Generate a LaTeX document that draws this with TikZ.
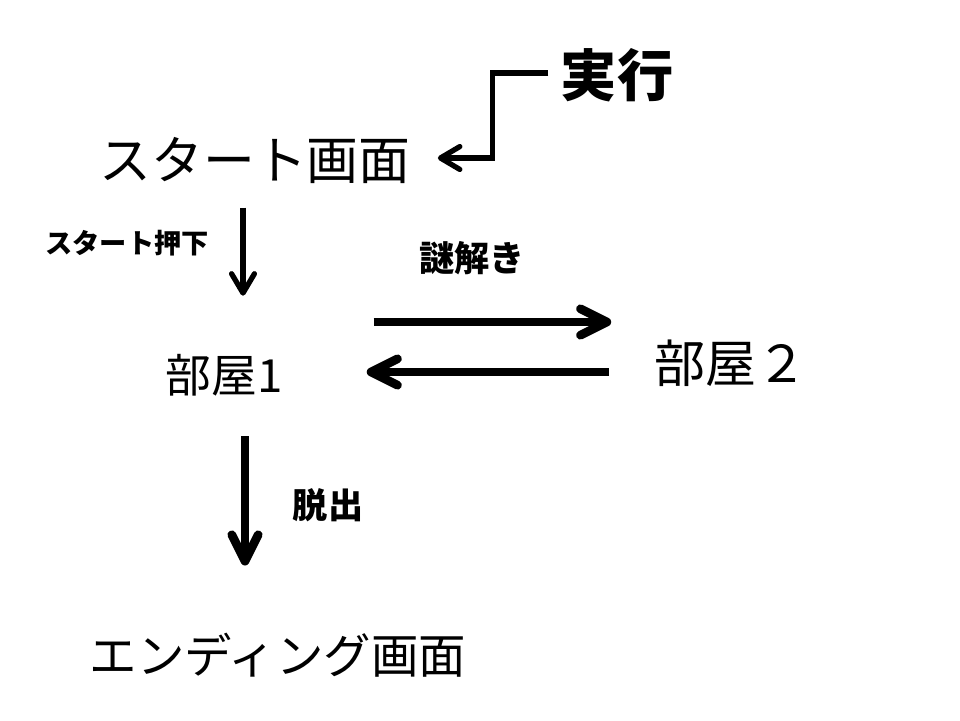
\documentclass[tikz,border=0pt]{standalone}
\usepackage{fontspec}
\setmainfont{Noto Sans CJK JP}
\usetikzlibrary{arrows.meta,calc}

\begin{document}
\begin{tikzpicture}[
    x=0.02cm,
    y=-0.02cm,
    gamen/.style={inner sep=0pt, font=\fontsize{29.5}{32}\selectfont},
    heya/.style={inner sep=0pt, font=\fontsize{26}{30}\selectfont},
    jikko/.style={inner sep=0pt, font=\bfseries\fontsize{32}{36}\selectfont},
    sousa/.style={inner sep=0pt, font=\bfseries\fontsize{20}{24}\selectfont},
    hosoya/.style={line width=3pt,
        -{Straight Barb[length=11pt,width=13pt,round]}},
    futoya/.style={line width=5pt,
        -{Straight Barb[length=15pt,width=15pt,round]}}
]
    \useasboundingbox (0,0) rectangle (960,720);

    \node[gamen] (start) at (255,160) {スタート画面};
    \node[jikko] (exec) at (617,75) {実行};
    \node[heya] (room1) at (224,375) {部屋1};
    \node[heya, font=\fontsize{29}{32}\selectfont] (room2) at (731,363) {部屋２};
    \node[gamen, font=\fontsize{27}{30}\selectfont] (ending) at (278,655) {エンディング画面};

    \node[sousa, font=\bfseries\fontsize{15.5}{18}\selectfont] (push) at (127,243) {スタート押下};
    \node[sousa] (nazo) at (472,258) {謎解き};
    \node[sousa] (dasshutsu) at (328,505) {脱出};

    \draw[hosoya] ($(exec.west)+(-12,-2)$) -- ++(-56,0) |- ($(start.east)+(27,-2)$);
    \draw[hosoya] ($(start.south)+(-12,24)$) -- ($(room1.north)+(19,-58)$);

    \draw[futoya] ($(room1.east)+(91,-53)$) -- ($(room2.west)+(-43,-41)$);
    \draw[futoya] ($(room2.west)+(-45,9)$) -- ($(room1.east)+(84,-3)$);
    \draw[futoya] ($(room1.south)+(21,40)$) -- ($(ending.north)+(-33,-67)$);
\end{tikzpicture}
\end{document}
